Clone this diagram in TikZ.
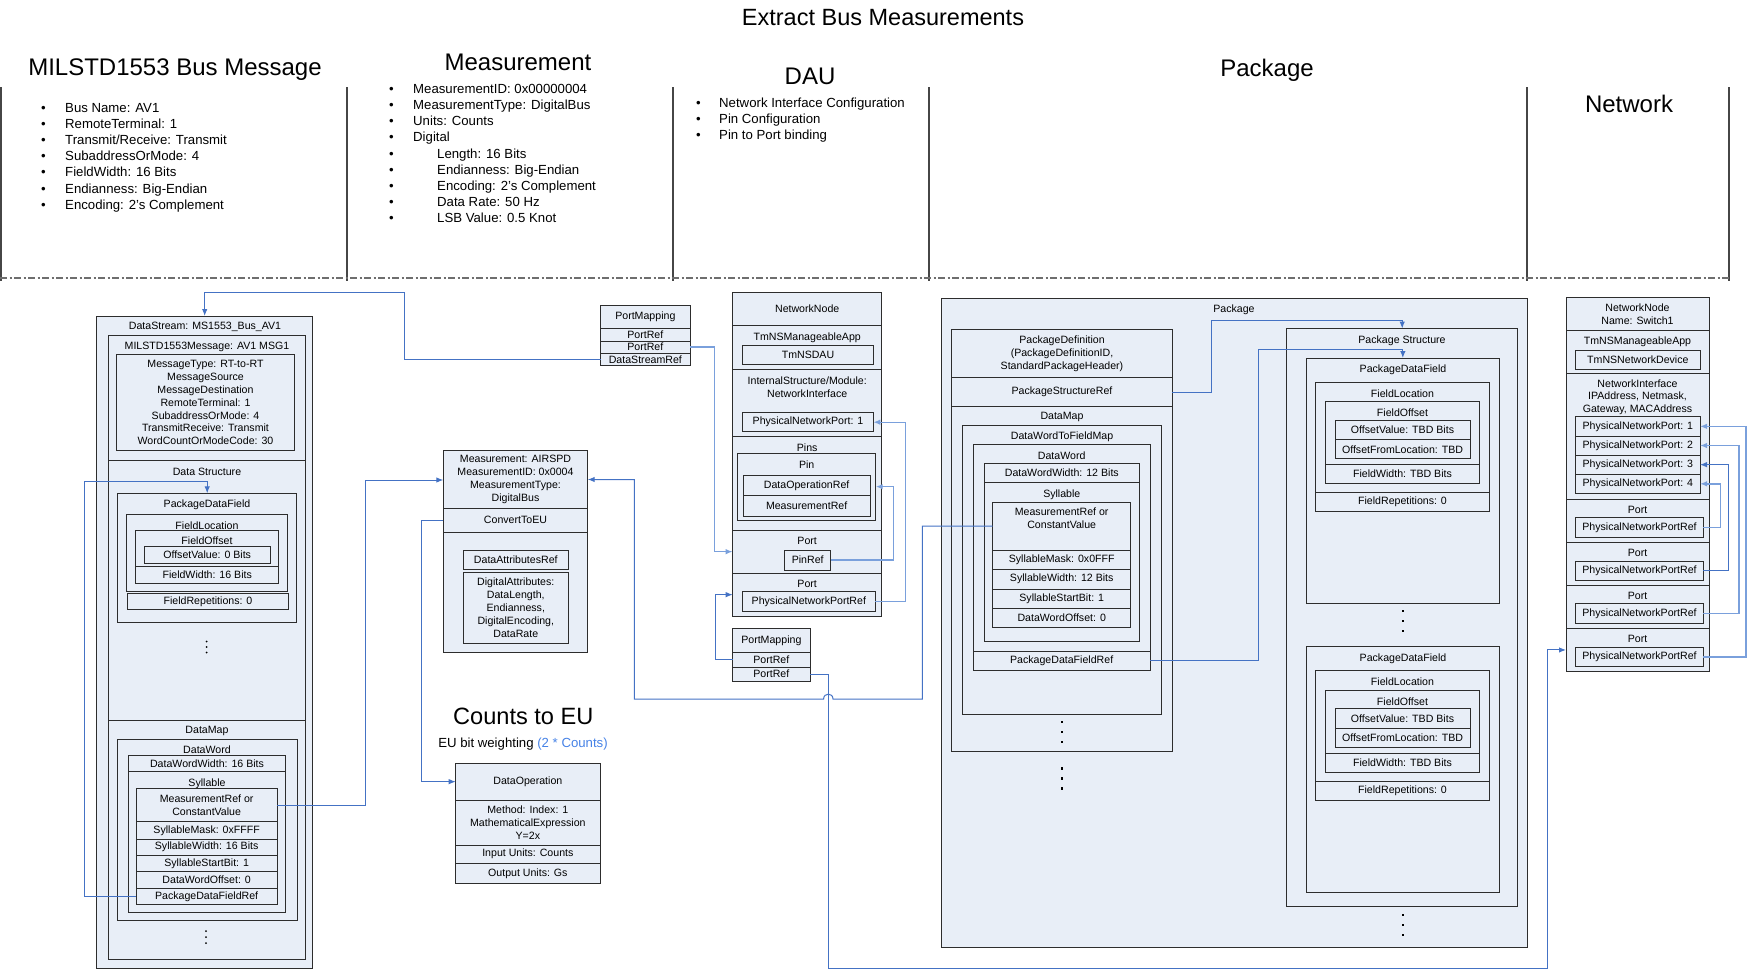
\documentclass[tikz,border=0pt]{standalone}
\usepackage{fontspec}
\setmainfont{Liberation Sans}
\usetikzlibrary{arrows.meta,fit}
\definecolor{boxfill}{RGB}{232,238,247}
\definecolor{boxline}{RGB}{45,45,45}
\definecolor{cdark}{RGB}{68,114,196}
\definecolor{clight}{RGB}{122,160,220}
\definecolor{sepc}{RGB}{70,70,70}
\definecolor{dashc}{RGB}{110,110,110}
\definecolor{eublue}{RGB}{70,130,230}
\newcommand\mkbox[3]{\node[box,fit={#2 #3}] (#1) {};}
\newcommand\mkrow[4]{\node[box,fit={#2 #3}] (#1) {};\node[txt] (#1-t) at (#1.center) {#4};}
\newcommand\tx[3]{\node[txt] (#1) at #2 {#3};}
\newcommand\bl{\makebox[24pt][l]{•}}
\newcommand\bli{\makebox[48pt][l]{•}}
\newcommand\bld{\makebox[23pt][l]{•}}
\begin{document}
\begin{tikzpicture}[x=1pt,y=-1pt,
  box/.style={draw=boxline,fill=boxfill,line width=1pt,inner sep=0pt,outer sep=0pt},
  txt/.style={font=\fontsize{10.6}{12.9}\selectfont,align=center,inner sep=0pt,text=black},
  lst/.style={font=\fontsize{13.2}{16.2}\selectfont,align=left,inner sep=0pt},
  head/.style={font=\fontsize{24}{28}\selectfont,inner sep=0pt},
  sepline/.style={draw=sepc,line width=1.2pt},
  cd/.style={draw=cdark,line width=1pt,-{Latex[length=7pt,width=5.5pt]}},
  cl/.style={draw=clight,line width=1.4pt,-{Latex[length=7pt,width=5.5pt]}}]
\useasboundingbox (0,0) rectangle (1749,970);

% ---------------- header ----------------
\node[font=\fontsize{23.5}{28}\selectfont,inner sep=0pt] (title) at (883,18) {Extract Bus Measurements};
\node[head] (h1) at (175,70) {MILSTD1553 Bus Message};
\node[head] (h2) at (518,62) {Measurement};
\node[head] (h3) at (810,76) {DAU};
\node[head] (h4) at (1267,70) {Package};
\node[head] (h5) at (1629,104) {Network};

\node[lst,anchor=north west] (lmil) at (41,102.8) {\bl Bus Name: AV1\\\bl RemoteTerminal: 1\\\bl Transmit/Receive: Transmit\\\bl SubaddressOrMode: 4\\\bl FieldWidth: 16 Bits\\\bl Endianness: Big-Endian\\\bl Encoding: 2's Complement};
\node[lst,anchor=north west] (lmeas) at (389,83.8) {\bl MeasurementID: 0x00000004\\\bl MeasurementType: DigitalBus\\\bl Units: Counts\\\bl Digital\\\bli Length: 16 Bits\\\bli Endianness: Big-Endian\\\bli Encoding: 2's Complement\\\bli Data Rate: 50 Hz\\\bli LSB Value: 0.5 Knot};
\node[lst,anchor=north west] (ldau) at (696,97.7) {\bld Network Interface Configuration\\\bld Pin Configuration\\\bld Pin to Port binding};

\foreach \xx in {1,347,673,929,1527,1729} \draw[sepline] (\xx,87) -- (\xx,281);
\draw[dashc,line width=1.1pt,dash pattern=on 7pt off 2.5pt on 2pt off 2.5pt] (0,278) -- (1729,278);

% ---------------- left column: DataStream ----------------
\mkbox{ds}{(96.7,316)}{(312.7,968.3)}
\tx{tds}{(205,327)}{DataStream: MS1553\_Bus\_AV1}
\mkbox{msh}{(108.3,335)}{(305.5,460)}
\mkbox{dstr}{(108.3,460)}{(305.5,720.7)}
\mkbox{dmap}{(108.3,720.7)}{(305.5,959.3)}
\tx{tms}{(207,346.7)}{MILSTD1553Message: AV1 MSG1}
\mkrow{mt}{(116.7,354.3)}{(294.3,450.7)}{MessageType: RT-to-RT\\MessageSource\\MessageDestination\\RemoteTerminal: 1\\SubaddressOrMode: 4\\TransmitReceive: Transmit\\WordCountOrModeCode: 30}
\tx{tdst}{(207,471.7)}{Data Structure}
\mkbox{pdf}{(117.7,493.3)}{(296.7,622.3)}
\tx{tpdf}{(207,504.7)}{PackageDataField}
\mkbox{fl}{(126.7,514.3)}{(287.7,591.7)}
\tx{tfl}{(207,525.3)}{FieldLocation}
\mkbox{fo}{(135.7,530)}{(278.7,566.7)}
\tx{tfo}{(207,541)}{FieldOffset}
\mkrow{ov}{(144.3,546.7)}{(270,563.3)}{OffsetValue: 0 Bits}
\mkrow{fw}{(135.7,566.7)}{(278.7,583.3)}{FieldWidth: 16 Bits}
\mkrow{fr}{(127.3,593.3)}{(288.7,609.3)}{FieldRepetitions: 0}
\foreach \yy in {641.5,647,652.5} \fill (206.7,\yy) circle (1pt);
\tx{tdmap}{(207,731)}{DataMap}
\mkbox{dw}{(117.3,739)}{(297.3,920.7)}
\tx{tdw}{(207,750)}{DataWord}
\mkrow{dww}{(128.3,755.7)}{(285.7,771)}{DataWordWidth: 16 Bits}
\mkbox{dwc}{(128.3,771)}{(285.7,912.3)}
\tx{tsyl}{(207,783.3)}{Syllable}
\mkrow{sm1}{(136,788.3)}{(277.3,821.7)}{MeasurementRef or\\ConstantValue}
\mkrow{sk1}{(136,821.7)}{(277.3,839)}{SyllableMask: 0xFFFF}
\mkrow{sw1}{(136,839)}{(277.3,855)}{SyllableWidth: 16 Bits}
\mkrow{ss1}{(136,855)}{(277.3,871.7)}{SyllableStartBit: 1}
\mkrow{so1}{(136,871.7)}{(277.3,888.3)}{DataWordOffset: 0}
\mkrow{sr1}{(136,888.3)}{(277.3,904.3)}{PackageDataFieldRef}
\foreach \yy in {931,937,943} \fill (206,\yy) circle (1pt);

% ---------------- PortMapping (top) ----------------
\mkrow{pmh}{(600.7,305)}{(690,328.3)}{PortMapping}
\mkrow{pr1}{(600.7,328.3)}{(690,341)}{PortRef}
\mkrow{pr2}{(600.7,341)}{(690,353.3)}{PortRef}
\mkrow{dsr}{(600.7,353.3)}{(690,365.7)}{DataStreamRef}

% ---------------- DAU NetworkNode ----------------
\mkrow{nnh}{(732.7,292.7)}{(881.7,325.7)}{NetworkNode}
\mkbox{nnapp}{(732.7,325.7)}{(881.7,369.3)}
\tx{tnnapp}{(807.2,337.3)}{TmNSManageableApp}
\mkrow{tmdau}{(742.7,345)}{(873.3,364)}{TmNSDAU}
\mkbox{nnint}{(732.7,369.3)}{(881.7,436.7)}
\tx{tnnint}{(807.2,387)}{InternalStructure/Module:\\NetworkInterface}
\mkrow{pnpd}{(742.7,412.7)}{(873.3,431.7)}{PhysicalNetworkPort: 1}
\mkbox{nnpins}{(732.7,436.7)}{(881.7,530)}
\tx{tpins}{(807.2,447.3)}{Pins}
\mkbox{pin}{(737.7,453.3)}{(875.7,520)}
\tx{tpin}{(806.7,464.3)}{Pin}
\mkrow{dor}{(743.3,475.7)}{(870,495.7)}{DataOperationRef}
\mkrow{mrr}{(743.3,495.7)}{(870,516)}{MeasurementRef}
\mkbox{nnp1}{(732.7,530)}{(881.7,573.3)}
\tx{tnnp1}{(807.2,540.7)}{Port}
\mkrow{pinref}{(784.7,550)}{(830.7,570)}{PinRef}
\mkbox{nnp2}{(732.7,573.3)}{(881.7,616)}
\tx{tnnp2}{(807.2,584)}{Port}
\mkrow{pnpr}{(742.7,591.7)}{(875,611.7)}{PhysicalNetworkPortRef}

% ---------------- PortMapping (bottom) ----------------
\mkrow{pm2h}{(732.7,628.3)}{(810,652.3)}{PortMapping}
\mkrow{pr3}{(732.7,652.3)}{(810,667)}{PortRef}
\mkrow{pr4}{(732.7,667)}{(810,681)}{PortRef}

% ---------------- Measurement ----------------
\mkrow{mhead}{(443.3,450.7)}{(587.7,508.3)}{Measurement: AIRSPD\\MeasurementID: 0x0004\\MeasurementType:\\DigitalBus}
\mkrow{cte}{(443.3,508.3)}{(587.7,532.3)}{ConvertToEU}
\mkbox{mattr}{(443.3,532.3)}{(587.7,652.3)}
\mkrow{dar}{(463.3,550.7)}{(568.3,569.7)}{DataAttributesRef}
\mkrow{dattr}{(463.3,572.3)}{(568.3,643)}{DigitalAttributes:\\DataLength,\\Endianness,\\DigitalEncoding,\\DataRate}

\node[font=\fontsize{23.6}{28}\selectfont,inner sep=0pt] (cteu) at (523.3,716) {Counts to EU};
\node[font=\fontsize{13.2}{16}\selectfont,inner sep=0pt] (eubw) at (523,744) {EU bit weighting {\color{eublue}(2 * Counts)}};

\mkrow{doh}{(455.7,763.3)}{(600,800)}{DataOperation}
\mkrow{dom}{(455.7,800)}{(600,845)}{Method: Index: 1\\MathematicalExpression\\Y=2x}
\mkrow{doi}{(455.7,845)}{(600,863.3)}{Input Units: Counts}
\mkrow{doo}{(455.7,863.3)}{(600,883.3)}{Output Units: Gs}

% ---------------- Package ----------------
\mkbox{pkg}{(941.7,298.3)}{(1527,947)}
\tx{tpkg}{(1234,310)}{Package}
\mkrow{pdh}{(951.7,329.3)}{(1172.3,377.7)}{PackageDefinition\\(PackageDefinitionID,\\StandardPackageHeader)}
\mkrow{psr}{(951.7,377.7)}{(1172.3,406.7)}{PackageStructureRef}
\mkbox{pdm}{(951.7,406.7)}{(1172.3,751.7)}
\tx{tpdm}{(1062,417.3)}{DataMap}
\mkbox{dwf}{(962.3,425.7)}{(1161.7,714)}
\tx{tdwf}{(1062,436.7)}{DataWordToFieldMap}
\mkbox{dw2}{(973.3,444.3)}{(1150,651)}
\tx{tdw2}{(1061.7,455.7)}{DataWord}
\mkrow{pdfr2}{(973.3,651)}{(1150,670)}{PackageDataFieldRef}
\mkrow{dww2}{(984.3,463.3)}{(1139.3,482.7)}{DataWordWidth: 12 Bits}
\mkbox{dwc2}{(984.3,482.7)}{(1139.3,641.7)}
\tx{tsyl2}{(1061.8,494.3)}{Syllable}
\mkbox{sm2}{(992.7,502)}{(1130.7,550)}
\tx{tsm2}{(1061.7,518.5)}{MeasurementRef or\\ConstantValue}
\mkrow{sk2}{(992.7,550)}{(1130.7,569)}{SyllableMask: 0x0FFF}
\mkrow{sw2}{(992.7,569)}{(1130.7,589)}{SyllableWidth: 12 Bits}
\mkrow{ss2}{(992.7,589)}{(1130.7,608.3)}{SyllableStartBit: 1}
\mkrow{so2}{(992.7,608.3)}{(1130.7,627.3)}{DataWordOffset: 0}
\foreach \yy in {721.7,731.7,741.7,768.3,778.3,788.3} \fill (1060.5,\yy-1.2) rectangle ++(2.4,2.4);

\mkbox{ps}{(1286.7,328.5)}{(1517.7,906)}
\tx{tps}{(1402,340.4)}{Package Structure}
\foreach \o/\n in {0/a,288.7/b}{
  \mkbox{psf\n}{(1306.7,{358+\o})}{(1499,{603.3+\o})}
  \tx{tpsf\n}{(1403,{370+\o})}{PackageDataField}
  \mkbox{psl\n}{(1315.7,{382.2+\o})}{(1489.3,{492.6+\o})}
  \tx{tpsl\n}{(1402.5,{393.3+\o})}{FieldLocation}
  \mkbox{pso\n}{(1325.7,{401.5+\o})}{(1479.3,{464.4+\o})}
  \tx{tpso\n}{(1402.5,{412.6+\o})}{FieldOffset}
  \mkrow{psv\n}{(1335,{420+\o})}{(1470,{439.6+\o})}{OffsetValue: TBD Bits}
  \mkrow{psfl\n}{(1335,{439.6+\o})}{(1470,{458.9+\o})}{OffsetFromLocation: TBD}
  \mkrow{psw\n}{(1325.7,{464.4+\o})}{(1479.3,{483.3+\o})}{FieldWidth: TBD Bits}
  \mkrow{psr\n}{(1315.7,{492.6+\o})}{(1489.3,{511.9+\o})}{FieldRepetitions: 0}
}
\foreach \yy in {611,621,631,915,925,935} \fill (1401.8,\yy-1.2) rectangle ++(2.4,2.4);

% ---------------- Network ----------------
\mkrow{nwh}{(1566,297.3)}{(1709,330.7)}{NetworkNode\\Name: Switch1}
\mkbox{nwapp}{(1566,330.7)}{(1709,373.3)}
\tx{tnwapp}{(1637.5,341.7)}{TmNSManageableApp}
\mkrow{tmnd}{(1575.7,350)}{(1700,369.3)}{TmNSNetworkDevice}
\mkbox{nwif}{(1566,373.3)}{(1709,499)}
\tx{tnwif}{(1637.5,397.2)}{NetworkInterface\\IPAddress, Netmask,\\Gateway, MACAddress}
\mkrow{pnpA}{(1575.7,416.7)}{(1700,436)}{PhysicalNetworkPort: 1}
\mkrow{pnpB}{(1575.7,436)}{(1700,455)}{PhysicalNetworkPort: 2}
\mkrow{pnpC}{(1575.7,455)}{(1700,474.3)}{PhysicalNetworkPort: 3}
\mkrow{pnpD}{(1575.7,474.3)}{(1700,493.3)}{PhysicalNetworkPort: 4}
\foreach \i/\yy in {1/499,2/542.3,3/585,4/628.3}{
  \mkbox{np\i}{(1566,\yy)}{(1709,{\yy+43.3})}
  \tx{tnp\i}{(1637.5,{\yy+11})}{Port}
  \mkrow{npr\i}{(1575.7,{\yy+18.7})}{(1703.3,{\yy+38.3})}{PhysicalNetworkPortRef}
}

% ---------------- connectors ----------------
\coordinate (kx1) at (84,481.7);
\draw[cd] (sr1.west) -| (kx1) -| (pdf.north);
\coordinate (kx2) at (365.5,480);
\draw[cd] (sm1.east) -| (kx2) -- (mhead.west |- kx2);
\coordinate (kx3) at (404,292.7);
\draw[cd] (dsr.west) -| (kx3) -| (ds.north);
\coordinate (kx4) at (714.3,0);
\draw[cl] (pr2.east) -| (kx4 |- nnp1.west) -- (nnp1.west);
\coordinate (kx5) at (893.3,0);
\draw[cl] (pinref.east) -| (kx5 |- pin.east) -- (pin.east);
\coordinate (kx6) at (905.7,0);
\draw[cl] (pnpr.east) -| (kx6 |- pnpd.east) -- (pnpd.east);
\coordinate (kx7) at (715,0);
\draw[cd] (pr3.west) -| (kx7 |- nnp2.west) -- (nnp2.west);
\coordinate (kx8) at (828.3,968);
\coordinate (kx9) at (1547,0);
\draw[cd] (pr4.east) -| (kx8) -| (kx9 |- np4.west) -- (np4.west);
\coordinate (kx10) at (421.5,0);
\draw[cd] (cte.west) -| (kx10 |- doh.west) -- (doh.west);
\draw[cd] (sm2.west) -| (922.4,699) -- (833,699) .. controls (833,692.5) and (823.6,692.5) .. (823.6,699) -- (634.3,699) |- (mhead.east);
\coordinate (kx11) at (1211,320);
\draw[cd] (psr.east) -| (kx11) -| (ps.north);
\coordinate (kx12) at (1258,349.6);
\draw[cd] (pdfr2.east) -| (kx12) -| (psfa.north);
\coordinate (kx13) at (1720.7,0);
\coordinate (kx14) at (1728.3,0);
\coordinate (kx15) at (1739,0);
\coordinate (kx16) at (1746,0);
\draw[cl] (npr1.east) -| (kx13 |- pnpD.east) -- (pnpD.east);
\draw[cd] (npr2.east) -| (kx14 |- pnpC.east) -- (pnpC.east);
\draw[cl] (npr3.east) -| (kx15 |- pnpB.east) -- (pnpB.east);
\draw[cl] (npr4.east) -| (kx16 |- pnpA.east) -- (pnpA.east);
\end{tikzpicture}
\end{document}
